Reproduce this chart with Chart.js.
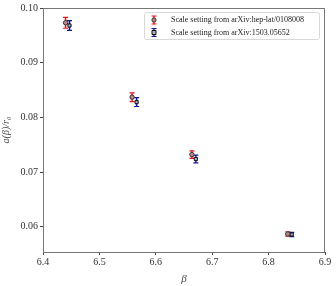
<!DOCTYPE html>
<html>
<head>
<meta charset="utf-8">
<script src="https://cdn.jsdelivr.net/npm/chart.js@4.4.0/dist/chart.umd.min.js"></script>
<style>
  body { margin: 0; background: #fff; }
  #wrap { width: 336px; height: 286px; }
</style>
</head>
<body>
<div id="wrap"><canvas id="myChart" width="336" height="286"></canvas></div>
<script>
// values
var beta_old = [6.440, 6.558, 6.664, 6.834]
var a_old = [0.0973, 0.0837, 0.0732, 0.0587]
var err_old = [0.0010, 0.0008, 0.0007, 0.0004]

var beta_new = [6.447, 6.566, 6.671, 6.841]
var a_new = [0.0968, 0.0828, 0.0724, 0.0586]
var err_new = [0.0009, 0.0008, 0.0007, 0.0004]

var xTicks = [6.4, 6.5, 6.6, 6.7, 6.8, 6.9]
var yTicks = [0.06, 0.07, 0.08, 0.09, 0.10]

var labels = ["Scale setting from arXiv:hep-lat/0108008", "Scale setting from arXiv:1503.05652"]

function pts(xs, ys) {
    var out = []
    for (var i = 0; i < xs.length; i++) out.push({x: xs[i], y: ys[i]})
    return out
}

var serif = "'Liberation Serif', 'DejaVu Serif', serif"

function drawBar(ctx, ds, px, top, bot) {
    ctx.strokeStyle = ds.haloColor
    ctx.lineWidth = 3
    ctx.beginPath()
    ctx.moveTo(px, top); ctx.lineTo(px, bot)
    ctx.stroke()
    ctx.strokeStyle = ds.barColor
    ctx.lineWidth = 1.2
    ctx.beginPath()
    ctx.moveTo(px, top); ctx.lineTo(px, bot)
    ctx.moveTo(px - 2.5, top); ctx.lineTo(px + 2.5, top)
    ctx.moveTo(px - 2.5, bot); ctx.lineTo(px + 2.5, bot)
    ctx.stroke()
}

// error bars + frame + legend
var errorBars = {
    id: 'errorBars',
    beforeDatasetsDraw: function(chart) {
        var ctx = chart.ctx
        var xs = chart.scales.x, ys = chart.scales.y
        chart.data.datasets.forEach(function(ds) {
            ds.data.forEach(function(p, i) {
                ctx.save()
                drawBar(ctx, ds, xs.getPixelForValue(p.x),
                    ys.getPixelForValue(p.y + ds.errors[i]),
                    ys.getPixelForValue(p.y - ds.errors[i]))
                ctx.restore()
            })
        })
    },
    afterDraw: function(chart) {
        var ctx = chart.ctx
        var a = chart.chartArea
        ctx.save()
        ctx.strokeStyle = '#777'
        ctx.lineWidth = 1
        ctx.strokeRect(a.left + 0.5, a.top + 0.5, a.right - a.left - 1, a.bottom - a.top)

        // legend box
        var lx = 144.5, ly = 12.5, lw = 175, lh = 27
        ctx.strokeStyle = '#d8d8d8'
        ctx.fillStyle = 'rgba(255,255,255,0.8)'
        ctx.beginPath()
        if (ctx.roundRect) ctx.roundRect(lx, ly, lw, lh, 2); else ctx.rect(lx, ly, lw, lh)
        ctx.fill(); ctx.stroke()

        ctx.font = '8px ' + serif
        ctx.textBaseline = 'middle'
        chart.data.datasets.forEach(function(ds, k) {
            var cy = 20 + k * 12.5
            var cx = 154
            drawBar(ctx, ds, cx, cy - 4, cy + 4)
            ctx.fillStyle = ds.pointBackgroundColor
            ctx.strokeStyle = ds.pointBorderColor
            ctx.lineWidth = 1
            ctx.beginPath()
            if (ds.pointStyle === 'rect') ctx.rect(cx - 2, cy - 2, 4, 4)
            else ctx.arc(cx, cy, 2.1, 0, Math.PI * 2)
            ctx.fill(); ctx.stroke()
            ctx.fillStyle = '#222'
            ctx.fillText(ds.label, 171, cy)
        })
        ctx.restore()
    }
}

var myChart = document.getElementById("myChart").getContext('2d')

var chart = new Chart(myChart, {
    type: 'scatter',
    data: {
        datasets: [
            {
                label: labels[0],
                data: pts(beta_old, a_old),
                errors: err_old,
                barColor: '#e8161b',
                haloColor: 'rgba(240,80,80,0.3)',
                pointStyle: 'circle',
                pointRadius: 2.2,
                pointBorderWidth: 1,
                pointBackgroundColor: '#b88a8a',
                pointBorderColor: '#333'
            },
            {
                label: labels[1],
                data: pts(beta_new, a_new),
                errors: err_new,
                barColor: '#16169a',
                haloColor: 'rgba(90,90,200,0.3)',
                pointStyle: 'rect',
                pointRadius: 2.2,
                pointBorderWidth: 1,
                pointBackgroundColor: '#a8b0c8',
                pointBorderColor: '#111'
            }
        ]
    },
    options: {
        responsive: false,
        animation: false,
        layout: { padding: { left: 0, right: 11, top: 8, bottom: 0 } },
        plugins: { legend: { display: false }, tooltip: { enabled: false } },
        scales: {
            x: {
                type: 'linear',
                min: 6.4, max: 6.9,
                afterBuildTicks: function(s) { s.ticks = xTicks.map(function(v) { return {value: v} }) },
                afterFit: function(s) { s.height = 34 },
                ticks: {
                    color: '#333',
                    font: { family: serif, size: 10 },
                    padding: 1,
                    maxRotation: 0,
                    callback: function(v) { return v.toFixed(1) }
                },
                grid: { drawOnChartArea: false, color: '#444', tickLength: 3 },
                border: { display: false },
                title: {
                    display: true, text: 'β', color: '#444',
                    font: { family: serif, size: 11, style: 'italic' },
                    padding: { top: 0, bottom: 0 }
                }
            },
            y: {
                type: 'linear',
                min: 0.0554, max: 0.10,
                afterBuildTicks: function(s) { s.ticks = yTicks.map(function(v) { return {value: v} }) },
                afterFit: function(s) { s.width = 43 },
                ticks: {
                    color: '#333',
                    font: { family: serif, size: 10 },
                    padding: 2,
                    callback: function(v) { return v.toFixed(2) }
                },
                grid: { drawOnChartArea: false, color: '#444', tickLength: 3 },
                border: { display: false },
                title: {
                    display: true, text: 'a(β)/r₀', color: '#444',
                    font: { family: serif, size: 10, style: 'italic' },
                    padding: { top: 0, bottom: 1 }
                }
            }
        }
    },
    plugins: [errorBars]
})
</script>
</body>
</html>
